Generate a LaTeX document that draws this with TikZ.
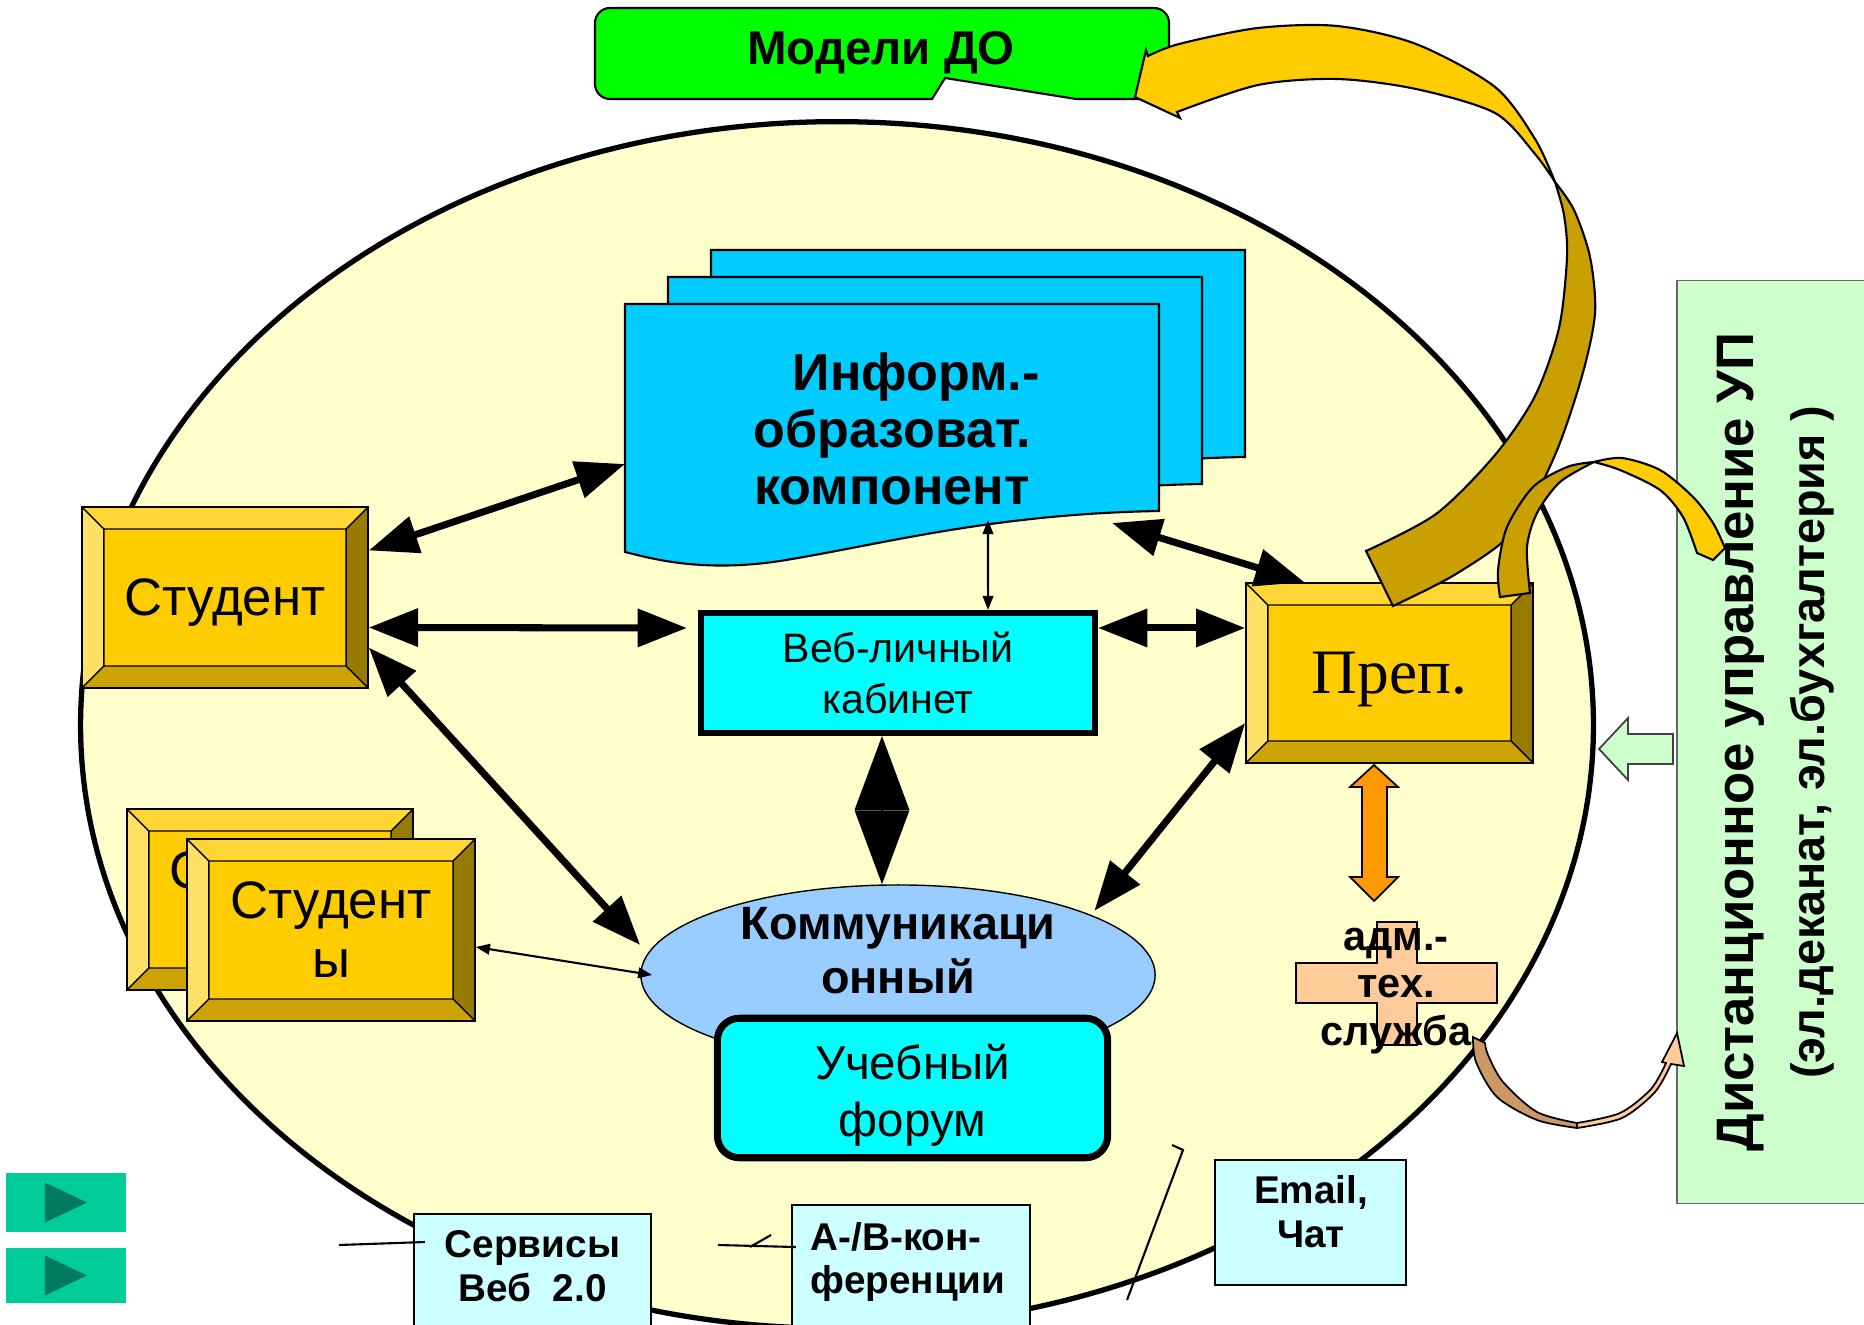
\documentclass[tikz,border=0pt]{standalone}
\usepackage{fontspec}
\setmainfont{Liberation Sans}
\newfontfamily\prepfont{Liberation Serif}
\usetikzlibrary{positioning,shapes.geometric,arrows.meta}
\definecolor{gface}{HTML}{FFCC00}
\definecolor{gtop}{HTML}{FFD633}
\definecolor{gleft}{HTML}{FFE066}
\definecolor{gright}{HTML}{997A00}
\definecolor{gbot}{HTML}{CCA300}
\definecolor{oval}{HTML}{FFFFCC}
\definecolor{docblue}{HTML}{00CCFF}
\definecolor{cyanbox}{HTML}{00FFFF}
\definecolor{kommblue}{HTML}{99CCFF}
\definecolor{modgreen}{HTML}{00FF00}
\definecolor{uprgreen}{HTML}{CCFFCC}
\definecolor{paleblue}{HTML}{CCFFFF}
\definecolor{peach}{HTML}{FFCC99}
\definecolor{tanarr}{HTML}{CC9966}
\definecolor{orng}{HTML}{FF9900}
\definecolor{ybright}{HTML}{FFCC00}
\definecolor{ydark}{HTML}{C9A000}
\definecolor{btngreen}{HTML}{00CC99}
\definecolor{btndark}{HTML}{007A5C}

\begin{document}
\begin{tikzpicture}[x=0.01cm,y=-0.01cm,
bevel/.style={draw,fill=gface,inner sep=0pt,path picture={
  \coordinate (bA) at (path picture bounding box.north west);
  \coordinate (bB) at (path picture bounding box.north east);
  \coordinate (bC) at (path picture bounding box.south east);
  \coordinate (bD) at (path picture bounding box.south west);
  \coordinate (ba) at ([shift={(0.22cm,-0.22cm)}]bA);
  \coordinate (bb) at ([shift={(-0.22cm,-0.22cm)}]bB);
  \coordinate (bc) at ([shift={(-0.22cm,0.22cm)}]bC);
  \coordinate (bd) at ([shift={(0.22cm,0.22cm)}]bD);
  \fill[gtop] (bA)--(bB)--(bb)--(ba)--cycle;
  \fill[gright] (bB)--(bC)--(bc)--(bb)--cycle;
  \fill[gbot] (bC)--(bD)--(bd)--(bc)--cycle;
  \fill[gleft] (bD)--(bA)--(ba)--(bd)--cycle;
  \draw (bA)--(ba) (bB)--(bb) (bC)--(bc) (bD)--(bd) (ba) rectangle (bc);}},
bigtext/.style={font=\fontsize{15}{16.8}\selectfont,align=center},
dbl/.style={line width=2pt,{Triangle[length=14pt,width=10.5pt]}-{Triangle[length=14pt,width=10.5pt]}},
thinarr/.style={line width=0.6pt,{Triangle[length=4pt,width=3pt]}-{Triangle[length=4pt,width=3pt]}},
diam/.style={line width=0.4pt,{Triangle[length=21pt,width=15.5pt]}-{Triangle[length=21pt,width=15.5pt]}},
doc/.style={draw,fill=docblue,line width=0.6pt},
botbox/.style={draw,fill=paleblue,line width=0.6pt,anchor=north},
bottext/.style={font=\bfseries\fontsize{11}{12.5}\selectfont,align=center},
play/.style={fill=btngreen,minimum width=1.2cm,inner sep=0pt,path picture={
  \fill[btndark] ([shift={(0.39cm,0.2cm)}]path picture bounding box.west) -- ([shift={(0.39cm,-0.2cm)}]path picture bounding box.west) -- ([xshift=0.81cm]path picture bounding box.west) -- cycle;}}]
\fill[white] (0,0) rectangle (1864,1325);
\useasboundingbox (0,0) rectangle (1864,1325);
\filldraw[fill=oval,line width=1.5pt] (837,725) ellipse [x radius=7.56cm,y radius=6.03cm];

\filldraw[doc,shift={(86,-54)}] (625,304) -- (1159,304) -- (1159,511) .. controls (990,514) and (880,545) .. (780,561) .. controls (700,573) and (650,558) .. (625,552) -- cycle;
\filldraw[doc,shift={(43,-27)}] (625,304) -- (1159,304) -- (1159,511) .. controls (990,514) and (880,545) .. (780,561) .. controls (700,573) and (650,558) .. (625,552) -- cycle;
\filldraw[doc] (625,304) -- (1159,304) -- (1159,511) .. controls (990,514) and (880,545) .. (780,561) .. controls (700,573) and (650,558) .. (625,552) -- cycle;
\node[font=\bfseries\fontsize{14.8}{16.2}\selectfont,align=center] (info) at (892,429) {\hspace*{0.48cm}Информ.-\\образоват.\\компонент};
\coordinate (infoW) at (625,464);
\coordinate (infoSE) at (1112,523);
\coordinate (infoS) at (988,520);

\node[draw,line width=1.7pt,fill=cyanbox,minimum width=3.94cm,minimum height=1.2cm,align=center,font=\fontsize{11.7}{14.5}\selectfont] (web) at (898,673) {Веб-личный\\кабинет};
\node[ellipse,draw,fill=kommblue,minimum width=5.14cm,minimum height=1.8cm,inner sep=0pt] (komm) at (898,975) {};
\node[font=\bfseries\fontsize{13.3}{15.4}\selectfont,align=center] (kommt) at (898,951) {Коммуникаци\\онный};
\node[draw,line width=2pt,rounded corners=0.22cm,fill=cyanbox,minimum width=3.9cm,minimum height=1.31cm,align=center,font=\fontsize{13.5}{16.2}\selectfont] (forum) at (912.5,1088) {\rule{0pt}{14pt}Учебный\\форум};

\node[bevel,minimum width=2.86cm,minimum height=1.81cm,text depth=0pt,font=\fontsize{15}{18}\selectfont] (stud) at (225,597.5) {Студент};
\node[bevel,minimum width=2.86cm,minimum height=1.81cm,bigtext] (studsb) at (270,899.5) {Студент\\ы};
\node[bevel,minimum width=2.88cm,minimum height=1.82cm,bigtext] (studs) at (331,930) {Студент\\ы};
\node[bevel,minimum width=2.87cm,minimum height=1.8cm,text depth=0pt,font=\prepfont\fontsize{18}{20}\selectfont] (prep) at (1389.5,673) {Преп.};

\draw[dbl] ([yshift=0.47cm]stud.east) -- (infoW);
\draw[dbl] ([yshift=-0.3cm]stud.east) -- ([xshift=-0.11cm,yshift=0.45cm]web.west);
\draw[dbl] ([yshift=-0.5cm]stud.east) -- ([yshift=0.3cm]komm.west);
\draw[dbl] ([yshift=0.45cm]web.east) -- ([yshift=0.45cm]prep.west);
\draw[dbl] (infoSE) -- ([xshift=-0.85cm]prep.north);
\draw[dbl] ([yshift=-0.5cm]prep.west) -- ([xshift=0.14cm]komm.north east);
\draw[diam] ([xshift=-0.16cm]web.south) -- ([xshift=-0.16cm]komm.north);
\draw[thinarr] (infoS) -- ([xshift=0.9cm]web.north);
\draw[thinarr] ([xshift=0.12cm]komm.west) -- ([yshift=-0.17cm]studs.east);

\filldraw[fill=modgreen,line width=0.6pt] (945,78) -- (1076,99) [rounded corners=0.15cm] -- (1169,99) -- (1169,8) -- (595,8) -- (595,99) [sharp corners] -- (932,99) -- cycle;
\node[font=\bfseries\fontsize{13.5}{16}\selectfont,anchor=base] (models) at (881,65) {Модели ДО};

\filldraw[fill=ydark,line width=0.6pt] plot[smooth] coordinates {(1393,606) (1456,574) (1515,530) (1555,455) (1582,376) (1595,313) (1590,257) (1574,210) (1555,182)} -- plot[smooth] coordinates {(1555,182) (1564,215) (1567,257) (1559,328) (1535,396) (1495,455) (1436,514) (1366,551)} -- cycle;
\filldraw[fill=ybright,line width=0.6pt] plot[smooth] coordinates {(1555,182) (1535,139) (1495,87) (1416,44) (1337,26) (1258,28) (1179,44) (1148,56)} -- (1146,50) -- (1135,97) -- (1180,118) -- plot[smooth] coordinates {(1177,112) (1258,85) (1337,79) (1416,89) (1495,113) (1535,154) (1555,182)} -- cycle;

\node[draw=black!60,fill=uprgreen,rotate=90,minimum width=9.22cm,minimum height=1.98cm,align=center,font=\bfseries\fontsize{15}{20.2}\selectfont] (upr) at (1776,742) {Дистанционное управление УП\\{\fontsize{13.3}{20.2}\selectfont (эл.деканат, эл.бухгалтерия )}};

\filldraw[fill=ydark,line width=0.6pt] plot[smooth] coordinates {(1500,597) (1498,570) (1507,527) (1533,487) (1567,467) (1594,462)} -- plot[smooth] coordinates {(1594,462) (1560,482) (1537,513) (1527,547) (1530,593)} -- cycle;
\filldraw[fill=ybright,line width=0.6pt] plot[smooth] coordinates {(1594,462) (1622,458) (1660,470) (1693,497) (1713,523) (1725,548)} -- (1713,560) -- plot[smooth] coordinates {(1697,553) (1683,517) (1660,490) (1620,470) (1594,462)} -- cycle;

\filldraw[fill=uprgreen,draw=black!75,line width=0.5pt] (1599,749) -- (1628,718) -- (1628,734) -- (1673,734) -- (1673,764) -- (1628,764) -- (1628,780) -- cycle;

\filldraw[fill=orng,line width=0.5pt] (1374,765) -- (1398,787) -- (1387,787) -- (1387,877) -- (1398,877) -- (1374,901) -- (1350,877) -- (1362,877) -- (1362,787) -- (1350,787) -- cycle;
\filldraw[fill=peach,line width=0.5pt] (1377,922) -- (1417,922) -- (1417,963) -- (1497,963) -- (1497,1003) -- (1417,1003) -- (1417,1045) -- (1377,1045) -- (1377,1003) -- (1296,1003) -- (1296,963) -- (1377,963) -- cycle;
\node[font=\bfseries\fontsize{11.8}{13.5}\selectfont,align=center] (adm) at (1396,991) {адм.-\\тех.\\служба};

\filldraw[fill=tanarr,line width=0.5pt] plot[smooth] coordinates {(1473,1037) (1476,1062) (1497,1097) (1537,1120) (1577,1128)} -- plot[smooth] coordinates {(1577,1123) (1537,1112) (1503,1082) (1488,1055) (1485,1043)} -- cycle;
\filldraw[fill=peach,line width=0.5pt] plot[smooth] coordinates {(1577,1128) (1622,1118) (1655,1092) (1671,1064)} -- (1684,1066) -- (1677,1033) -- (1662,1062) -- plot[smooth] coordinates {(1666,1063) (1651,1089) (1620,1113) (1577,1123)} -- cycle;

\node[botbox,minimum width=2.37cm,minimum height=1.5cm] (serv) at (532.5,1213) {};
\node[bottext] (servt) at (532.5,1266) {Сервисы\\Веб\ \ 2.0};
\node[botbox,minimum width=2.38cm,minimum height=1.5cm] (av) at (911,1204) {};
\node[bottext,align=left,anchor=west,inner sep=0pt] (avt) at (810,1262) {А-/В-кон-\\ференции};
\node[botbox,minimum width=1.91cm,minimum height=1.25cm] (mail) at (1310.5,1159) {};
\node[bottext] (mailt) at (1311,1212) {Email,\\Чат};

\coordinate (ln1) at (339,1245);
\coordinate (ln2) at (718,1245);
\coordinate (tk2a) at (750,1247);
\coordinate (tk2b) at (771,1235);
\coordinate (ln3a) at (1172,1145);
\coordinate (ln3b) at (1183,1150);
\coordinate (ln3c) at (1127,1300);
\draw[line width=0.6pt] (ln1) -- ([shift={(0.12cm,-0.29cm)}]serv.north west);
\draw[line width=0.6pt] (ln2) -- ([shift={(0.05cm,-0.43cm)}]av.north west);
\draw[line width=0.6pt] (tk2a) -- (tk2b);
\draw[line width=0.6pt] (ln3a) -- (ln3b) -- (ln3c);

\node[play,minimum height=0.59cm] (btnA) at (66,1202.5) {};
\node[play,minimum height=0.55cm] (btnB) at (66,1275.5) {};
\end{tikzpicture}
\end{document}
